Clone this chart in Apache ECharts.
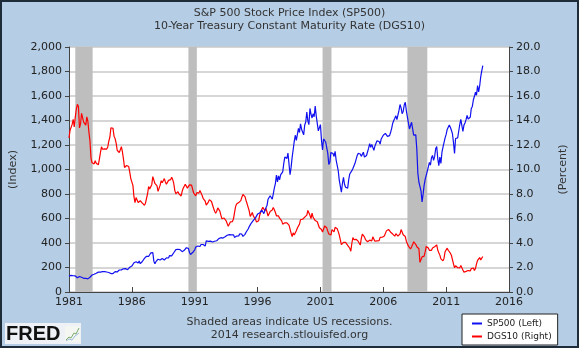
<!DOCTYPE html>
<html><head><meta charset="utf-8">
<script src="https://cdn.jsdelivr.net/npm/echarts@6/dist/echarts.min.js"></script>
<style>html,body{margin:0;padding:0;background:#B5CDE5;}#c{width:579px;height:348px;}</style>
</head><body><div id="c"></div>
<script>
// Monthly S&P 500 closes, Jan 1981 - Dec 2013
const sp500 = [
129.55,131.27,136.00,132.81,132.59,131.21,130.92,122.79,116.18,121.89,126.35,122.55,
120.40,113.11,111.96,116.44,111.88,109.61,107.09,119.51,120.42,133.71,138.54,140.64,
145.30,148.06,152.96,164.42,162.39,168.11,162.56,164.40,166.07,163.55,166.40,164.93,
163.41,157.06,159.18,160.05,150.55,153.18,150.66,166.68,166.10,166.09,163.58,167.24,
179.63,181.18,180.66,179.83,189.55,191.85,190.92,188.63,182.08,189.82,202.17,211.28,
211.78,226.92,238.90,235.52,247.35,250.84,236.12,252.93,231.32,243.98,249.22,242.17,
274.08,284.20,291.70,288.36,290.10,304.00,318.66,329.80,321.83,251.79,230.30,247.08,
257.07,267.82,258.89,261.33,262.16,273.50,272.02,261.52,271.91,278.97,273.70,277.72,
297.47,288.86,294.87,309.64,320.52,317.98,346.08,351.45,349.15,340.36,345.99,353.40,
329.08,331.89,339.94,330.80,361.23,358.02,356.15,322.56,306.05,304.00,322.22,330.22,
343.93,367.07,375.22,375.35,389.83,371.16,387.81,395.43,387.86,392.45,375.22,417.09,
408.79,412.70,403.69,414.95,415.35,408.14,424.21,414.03,417.80,418.68,431.35,435.71,
438.78,443.38,451.67,440.19,450.19,450.53,448.13,463.56,458.93,467.83,461.79,466.45,
481.61,467.14,445.77,450.91,456.51,444.27,458.26,475.49,462.69,472.35,453.69,459.27,
470.42,487.39,500.71,514.71,533.40,544.75,562.06,561.88,584.41,581.50,605.37,615.93,
636.02,640.43,645.50,654.17,669.12,670.63,639.95,651.99,687.31,705.27,757.02,740.74,
786.16,790.82,757.12,801.34,848.28,885.14,954.29,899.47,947.28,914.62,955.40,970.43,
980.28,1049.34,1101.75,1111.75,1090.82,1133.84,1120.67,957.28,1017.01,1098.67,1163.63,1229.23,
1279.64,1238.33,1286.37,1335.18,1301.84,1372.71,1328.72,1320.41,1282.71,1362.93,1388.91,1469.25,
1394.46,1366.42,1498.58,1452.43,1420.60,1454.60,1430.83,1517.68,1436.51,1429.40,1314.95,1320.28,
1366.01,1239.94,1160.33,1249.46,1255.82,1224.42,1211.23,1133.58,1040.94,1059.78,1139.45,1148.08,
1130.20,1106.73,1147.39,1076.92,1067.14,989.82,911.62,916.07,815.28,885.76,936.31,879.82,
855.70,841.15,848.18,916.92,963.59,974.50,990.31,1008.01,995.97,1050.71,1058.20,1111.92,
1131.13,1144.94,1126.21,1107.30,1120.68,1140.84,1101.72,1104.24,1114.58,1130.20,1173.82,1211.92,
1181.27,1203.60,1180.59,1156.85,1191.50,1191.33,1234.18,1220.33,1228.81,1207.01,1249.48,1248.29,
1280.08,1280.66,1294.87,1310.61,1270.09,1270.20,1276.66,1303.82,1335.85,1377.94,1400.63,1418.30,
1438.24,1406.82,1420.86,1482.37,1530.62,1503.35,1455.27,1473.99,1526.75,1549.38,1481.14,1468.36,
1378.55,1330.63,1322.70,1385.59,1400.38,1280.00,1267.38,1282.83,1166.36,968.75,896.24,903.25,
825.88,735.09,797.87,872.81,919.14,919.32,987.48,1020.62,1057.08,1036.19,1095.63,1115.10,
1073.87,1104.49,1169.43,1186.69,1089.41,1030.71,1101.60,1049.33,1141.20,1183.26,1180.55,1257.64,
1286.12,1327.22,1325.83,1363.61,1345.20,1320.64,1292.28,1218.89,1131.42,1253.30,1246.96,1257.60,
1312.41,1365.68,1408.47,1397.91,1310.33,1362.16,1379.32,1406.58,1440.67,1412.16,1416.18,1426.19,
1498.11,1514.68,1569.19,1597.57,1630.74,1606.28,1685.73,1632.97,1681.55,1756.54,1805.81,1848.36
];
// Monthly 10-year Treasury rate, Jan 1981 - Dec 2013
const dgs10 = [
12.57,13.19,13.12,13.68,14.10,13.47,14.28,14.94,15.32,15.15,13.39,13.72,
14.59,14.43,13.86,13.87,13.62,14.30,13.95,13.06,12.34,10.91,10.55,10.54,
10.46,10.72,10.51,10.40,10.38,10.85,11.38,11.85,11.65,11.54,11.69,11.83,
11.67,11.84,12.32,12.63,13.41,13.56,13.36,12.72,12.52,12.16,11.57,11.50,
11.38,11.51,11.86,11.43,10.85,10.16,10.31,10.33,10.37,10.24,9.78,9.26,
9.19,8.70,7.78,7.30,7.71,7.80,7.30,7.17,7.45,7.43,7.25,7.11,
7.08,7.25,7.25,8.02,8.61,8.40,8.45,8.76,9.42,9.52,8.86,8.99,
8.67,8.21,8.37,8.72,9.09,8.92,9.06,9.26,8.98,8.80,8.96,9.11,
9.09,9.17,9.36,9.18,8.86,8.28,8.02,8.11,8.19,8.01,7.87,7.84,
8.21,8.47,8.59,8.79,8.76,8.48,8.47,8.75,8.89,8.72,8.39,8.08,
8.09,7.85,8.11,8.04,8.07,8.28,8.27,7.90,7.65,7.53,7.42,7.09,
7.03,7.34,7.54,7.48,7.39,7.26,6.84,6.59,6.42,6.59,6.87,6.77,
6.60,6.26,5.98,5.97,6.04,5.96,5.81,5.68,5.36,5.33,5.72,5.77,
5.75,5.97,6.48,6.97,7.18,7.10,7.30,7.24,7.46,7.74,7.96,7.81,
7.78,7.47,7.20,7.06,6.63,6.17,6.28,6.49,6.20,6.04,5.93,5.71,
5.65,5.81,6.27,6.51,6.74,6.91,6.87,6.64,6.83,6.53,6.20,6.30,
6.58,6.42,6.69,6.89,6.71,6.49,6.22,6.30,6.21,6.03,5.88,5.81,
5.54,5.57,5.65,5.64,5.65,5.50,5.46,5.34,4.81,4.53,4.83,4.65,
4.72,5.00,5.23,5.18,5.54,5.90,5.79,5.94,5.92,6.11,6.03,6.28,
6.66,6.52,6.26,5.99,6.44,6.10,6.05,5.83,5.80,5.74,5.72,5.24,
5.16,5.10,4.89,5.14,5.39,5.28,5.24,4.97,4.73,4.57,4.65,5.09,
5.04,4.91,5.28,5.21,5.16,4.93,4.65,4.26,3.87,3.94,4.05,4.03,
4.05,3.90,3.81,3.96,3.57,3.33,3.98,4.45,4.27,4.29,4.30,4.27,
4.15,4.08,3.83,4.35,4.72,4.73,4.50,4.28,4.13,4.10,4.19,4.23,
4.22,4.17,4.50,4.34,4.14,4.00,4.18,4.26,4.20,4.46,4.54,4.47,
4.42,4.57,4.72,4.99,5.11,5.11,5.09,4.88,4.72,4.73,4.60,4.56,
4.76,4.72,4.56,4.69,4.75,5.10,5.00,4.67,4.52,4.53,4.15,4.10,
3.74,3.74,3.51,3.68,3.88,4.10,4.01,3.89,3.69,3.81,3.53,2.42,
2.52,2.87,2.82,2.93,3.29,3.72,3.56,3.59,3.40,3.39,3.40,3.59,
3.73,3.69,3.73,3.85,3.42,3.20,3.01,2.70,2.65,2.54,2.76,3.29,
3.39,3.58,3.41,3.46,3.17,3.00,3.00,2.30,1.98,2.15,2.01,1.98,
1.97,1.97,2.17,2.05,1.80,1.62,1.53,1.68,1.72,1.75,1.65,1.72,
1.91,1.98,1.96,1.76,1.93,2.30,2.58,2.74,2.81,2.62,2.72,2.90
];
const startYear = 1981;
const endYear = 2016;
// US recessions (start, end) as fractional years
const recessionStart = [1981.50, 1990.50, 2001.17, 2007.92];
const recessionEnd   = [1982.88, 1991.17, 2001.88, 2009.50];
const leftTicks = [0, 2000, 200];
const rightTicks = [0, 20, 2];

const toPairs = arr => arr.map((v, i) => [i / 12, v]);
const areas = recessionStart.map((s, i) => [{xAxis: s - startYear}, {xAxis: recessionEnd[i] - startYear}]);

const FONT = 'DejaVu Sans';
const chart = echarts.init(document.getElementById('c'), null, {renderer: 'canvas'});
chart.setOption({
  backgroundColor: '#B5CDE5',
  animation: false,
  textStyle: {fontFamily: FONT},
  title: [
    {text: 'S&P 500 Stock Price Index (SP500)', left: 'center', top: 3,
     textStyle: {fontFamily: FONT, fontSize: 11, fontWeight: 'normal', color: '#333'}},
    {text: '10-Year Treasury Constant Maturity Rate (DGS10)', left: 'center', top: 16,
     textStyle: {fontFamily: FONT, fontSize: 11, fontWeight: 'normal', color: '#333'}}
  ],
  grid: {left: 62, right: 70, top: 47, bottom: 56, show: true, backgroundColor: '#fff', borderWidth: 0},
  legend: {
    left: 462, top: 314, width: 96, height: 29, orient: 'vertical',
    padding: [5, 6, 4, 10], itemGap: 4,
    backgroundColor: '#fff', borderColor: '#222', borderWidth: 1,
    icon: 'rect', itemWidth: 10, itemHeight: 2,
    textStyle: {fontFamily: FONT, fontSize: 9, color: '#222'},
    data: ['SP500 (Left)', 'DGS10 (Right)']
  },
  xAxis: {
    type: 'value', min: 0, max: endYear - startYear, interval: 5,
    axisLine: {lineStyle: {color: '#444', width: 1}},
    axisTick: {inside: true, length: 5, lineStyle: {color: '#444'}},
    splitLine: {show: false},
    axisLabel: {formatter: v => String(v + startYear), fontSize: 11, color: '#222', margin: 5,
                showMinLabel: true, showMaxLabel: true, fontFamily: FONT}
  },
  yAxis: [
    {type: 'value', min: leftTicks[0], max: leftTicks[1], interval: leftTicks[2],
     name: '(Index)', nameLocation: 'middle', nameGap: 50, nameRotate: 90,
     nameTextStyle: {fontSize: 11, color: '#333', fontFamily: FONT},
     axisLine: {show: true, lineStyle: {color: '#444'}},
     axisTick: {show: true, length: 4, lineStyle: {color: '#444'}},
     splitLine: {lineStyle: {color: '#C8C8C8', width: 1.5}},
     axisLabel: {formatter: v => v.toLocaleString('en-US'), fontSize: 11, color: '#222', margin: 7, fontFamily: FONT}},
    {type: 'value', min: rightTicks[0], max: rightTicks[1], interval: rightTicks[2], position: 'right',
     name: '(Percent)', nameLocation: 'middle', nameGap: 49, nameRotate: 90,
     nameTextStyle: {fontSize: 11, color: '#333', fontFamily: FONT},
     axisLine: {show: true, lineStyle: {color: '#444'}},
     axisTick: {show: true, length: 4, lineStyle: {color: '#444'}},
     splitLine: {show: false},
     axisLabel: {formatter: v => v.toFixed(1), fontSize: 11, color: '#222', margin: 7, fontFamily: FONT}}
  ],
  series: [
    {name: 'recessions', type: 'line', data: [], yAxisIndex: 0, z: 1, silent: true,
     markArea: {silent: true, itemStyle: {color: '#BEBEBE'}, data: areas}},
    {name: 'DGS10 (Right)', type: 'line', yAxisIndex: 1, data: toPairs(dgs10), showSymbol: false,
     lineStyle: {color: '#FF0000', width: 1.2}, itemStyle: {color: '#FF0000'}, z: 3},
    {name: 'SP500 (Left)', type: 'line', yAxisIndex: 0, data: toPairs(sp500), showSymbol: false,
     lineStyle: {color: '#1010F0', width: 1.2}, itemStyle: {color: '#1010F0'}, z: 4}
  ],
  graphic: [
    {type: 'text', left: 'center', top: 317, style: {text: 'Shaded areas indicate US recessions.', fontFamily: FONT, fontSize: 11, fill: '#333'}},
    {type: 'text', left: 'center', top: 330, style: {text: '2014 research.stlouisfed.org', fontFamily: FONT, fontSize: 11, fill: '#333'}},
    {type: 'rect', shape: {x: 5, y: 323, width: 76, height: 21}, style: {fill: '#EEF2F6'}},
    {type: 'text', x: 6, y: 324, style: {text: 'FRED', fontFamily: 'Liberation Sans', fontWeight: 'bold', fontSize: 20, fill: '#111'}},
    {type: 'rect', shape: {x: 65, y: 326, width: 15, height: 16}, style: {fill: '#F4F6F2'}},
    {type: 'polyline', shape: {points: [[66, 340], [69, 337], [71, 338], [74, 333], [76, 334], [79, 328]]}, style: {stroke: '#7AAA6A', lineWidth: 1, fill: null}},
    {type: 'polyline', shape: {points: [[66, 341], [69, 339], [72, 340], [75, 336], [79, 333]]}, style: {stroke: '#9BBBD8', lineWidth: 1, fill: null}},
    {type: 'rect', shape: {x: 1, y: 1, width: 577, height: 346}, style: {fill: null, stroke: '#1E2B38', lineWidth: 2}, z: 100}
  ]
});
</script></body></html>
